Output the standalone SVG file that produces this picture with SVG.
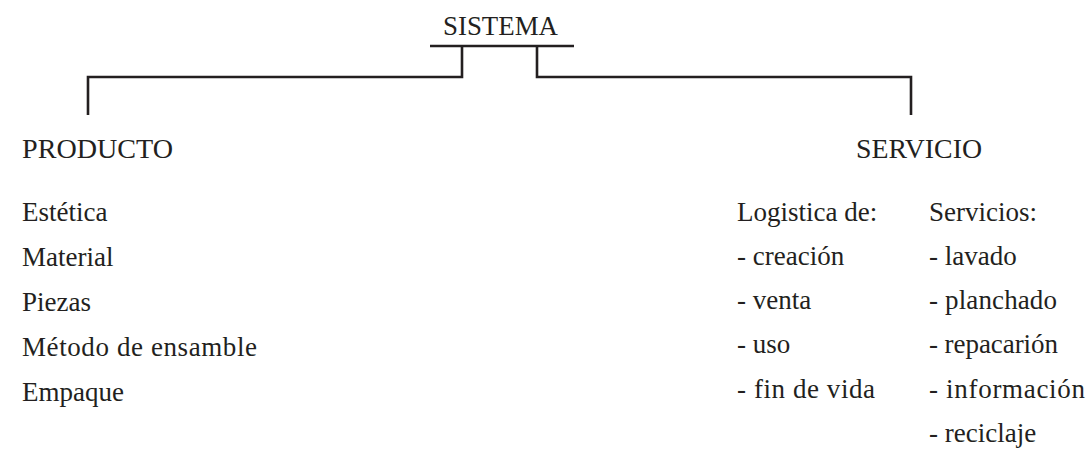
<svg xmlns="http://www.w3.org/2000/svg" width="1092" height="456" viewBox="0 0 1092 456">
<style>
  text { font-family: "Liberation Serif", "Times New Roman", serif; fill: #231f20; }
  .head { font-size: 27px; }
  .item { font-size: 27px; }
  .conn { fill: none; stroke: #231f20; stroke-width: 2.6; stroke-linejoin: miter; stroke-linecap: butt; }
</style>
<rect width="1092" height="456" fill="#ffffff"/>
<g id="connectors">
  <line class="conn" x1="430" y1="46" x2="574" y2="46"/>
  <polyline class="conn" points="462,46 462,77 88,77 88,115"/>
  <polyline class="conn" points="537,46 537,77 911,77 911,115"/>
</g>
<g id="sistema">
  <text class="head" x="443" y="35" textLength="115" lengthAdjust="spacingAndGlyphs">SISTEMA</text>
</g>
<g id="producto">
  <text class="head" x="22" y="158" textLength="151" lengthAdjust="spacingAndGlyphs">PRODUCTO</text>
</g>
<g id="servicio">
  <text class="head" x="856" y="158" textLength="126" lengthAdjust="spacingAndGlyphs">SERVICIO</text>
</g>
<g id="producto-items">
  <text class="item" x="22" y="221">Estética</text>
  <text class="item" x="22" y="266">Material</text>
  <text class="item" x="22" y="311">Piezas</text>
  <text class="item" x="22" y="356" textLength="235">Método de ensamble</text>
  <text class="item" x="22" y="401">Empaque</text>
</g>
<g id="logistica">
  <text class="item" x="737" y="221">Logistica de:</text>
  <text class="item" x="737" y="265">- creación</text>
  <text class="item" x="737" y="309">- venta</text>
  <text class="item" x="737" y="353">- uso</text>
  <text class="item" x="737" y="398" textLength="138">- fin de vida</text>
</g>
<g id="servicios">
  <text class="item" x="929" y="221">Servicios:</text>
  <text class="item" x="929" y="265">- lavado</text>
  <text class="item" x="929" y="309" textLength="128">- planchado</text>
  <text class="item" x="929" y="353" textLength="129">- repacarión</text>
  <text class="item" x="929" y="398" textLength="156">- información</text>
  <text class="item" x="929" y="442">- reciclaje</text>
</g>
</svg>
